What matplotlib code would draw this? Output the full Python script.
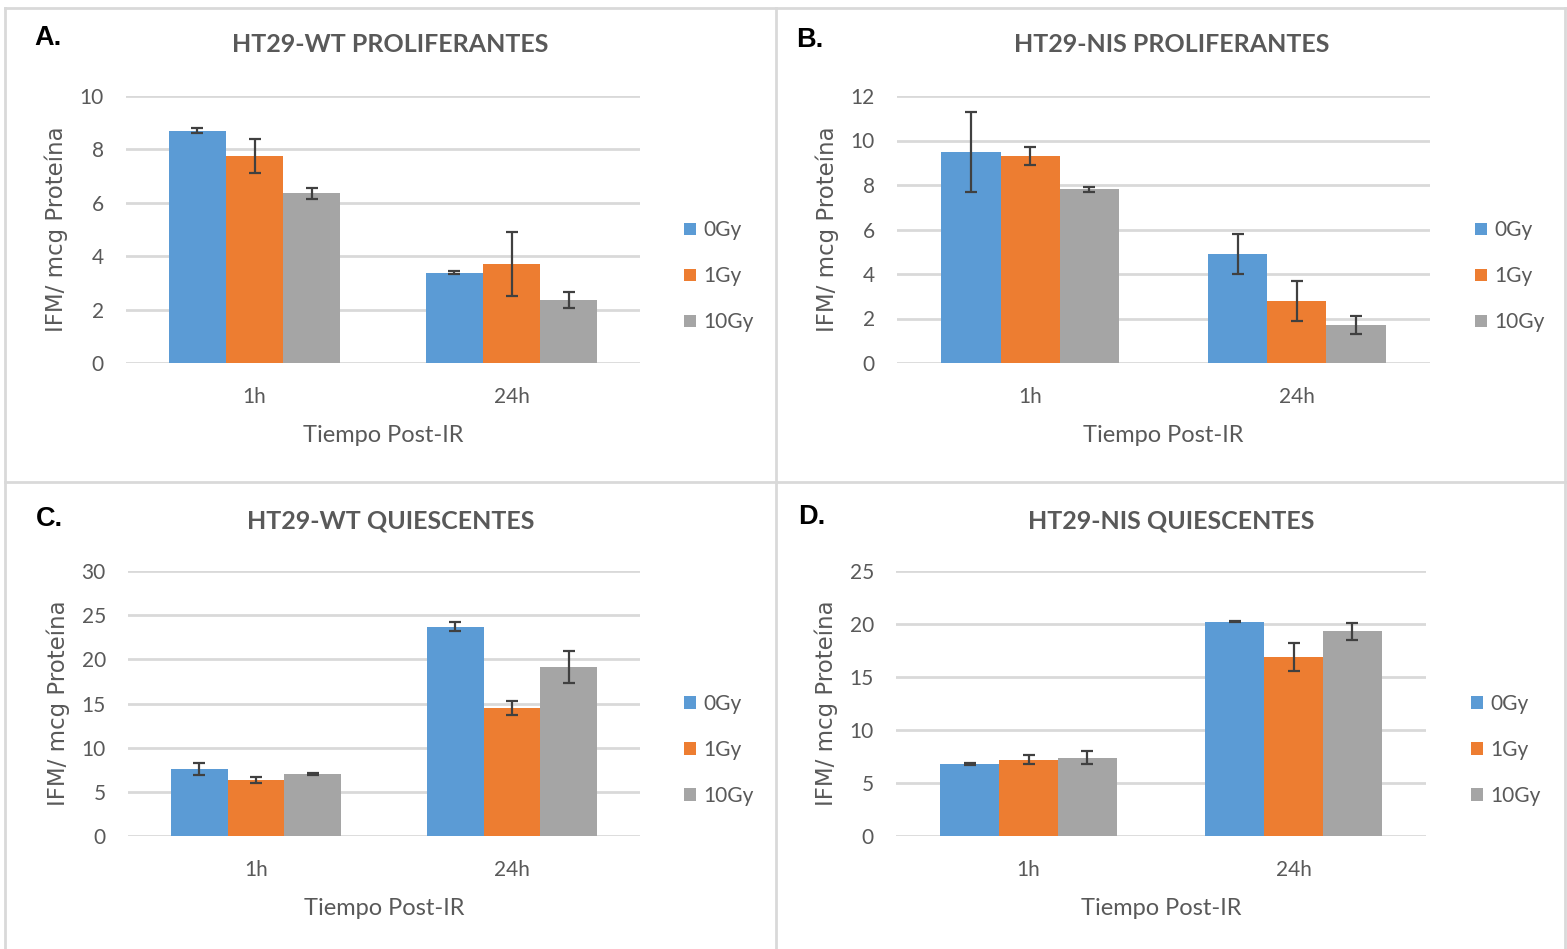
import matplotlib
matplotlib.use("Agg")
import matplotlib.pyplot as plt
import numpy as np

# data
times = ['1h', '24h']
doses = ['0Gy', '1Gy', '10Gy']
colors = ['#5B9BD5', '#ED7D31', '#A5A5A5']

wt_prolif = [[8.7, 3.38], [7.75, 3.72], [6.35, 2.35]]
wt_prolif_err = [[0.1, 0.05], [0.65, 1.2], [0.2, 0.3]]

nis_prolif = [[9.5, 4.9], [9.3, 2.8], [7.8, 1.7]]
nis_prolif_err = [[1.8, 0.9], [0.4, 0.9], [0.1, 0.4]]

wt_quies = [[7.6, 23.7], [6.3, 14.5], [7.0, 19.1]]
wt_quies_err = [[0.7, 0.5], [0.35, 0.8], [0.15, 1.8]]

nis_quies = [[6.8, 20.2], [7.2, 16.9], [7.4, 19.3]]
nis_quies_err = [[0.1, 0.05], [0.4, 1.3], [0.6, 0.8]]

W, H = 1567, 949
TXT = '#595959'
GRID = '#D9D9D9'
excel_font = ['Lato', 'DejaVu Sans']

fig = plt.figure(figsize=(W / 100, H / 100), dpi=100)


def px_axes(l, r, t, b):
    return fig.add_axes([l / W, 1 - b / H, (r - l) / W, (b - t) / H])


def panel(box, letter, letter_xy, title, title_xy, vals, errs, ymax, ystep):
    ax = px_axes(*box)
    x = np.arange(len(times))
    w = 2 / 9
    for i, d in enumerate(doses):
        ax.bar(x + (i - 1) * w, vals[i], w, color=colors[i], label=d, zorder=3,
               yerr=errs[i], error_kw=dict(ecolor='#404040', elinewidth=1.6,
                                           capsize=4, capthick=1.6, zorder=4))
    ax.set_xlim(-0.5, 1.5)
    ax.set_ylim(0, ymax)
    ax.set_yticks(np.arange(0, ymax + 0.01, ystep))
    ax.set_xticks(x)
    ax.set_xticklabels(times)
    ax.yaxis.grid(True, color=GRID, lw=2, zorder=0)
    ax.set_axisbelow(True)
    for s in ax.spines.values():
        s.set_visible(False)
    ax.tick_params(length=0, labelsize=15, labelcolor=TXT)
    ax.tick_params(axis='y', pad=16)
    ax.tick_params(axis='x', pad=17)
    for t in ax.get_xticklabels() + ax.get_yticklabels():
        t.set_family(excel_font)
    ax.set_xlabel('Tiempo Post-IR', fontsize=17, color=TXT, family=excel_font, labelpad=13)
    ax.set_ylabel('IFM/ mcg Proteína', fontsize=16.5, color=TXT, family='DejaVu Sans', labelpad=8)
    leg = ax.legend(loc='center left', bbox_to_anchor=(1.05, 0.325), frameon=False,
                    handlelength=0.55, handleheight=0.55, handletextpad=0.35,
                    labelspacing=1.25, prop=dict(family=excel_font, size=15))
    for t in leg.get_texts():
        t.set_color(TXT)
    fig.text(title_xy[0] / W, 1 - title_xy[1] / H, title, ha='center', va='center',
             fontsize=18, fontweight='bold', color=TXT, family=excel_font)
    fig.text(letter_xy[0] / W, 1 - letter_xy[1] / H, letter, ha='left', va='center',
             fontsize=19.5, fontweight='bold', color='black', family='Liberation Sans')
    return ax


panel((126, 640, 96, 363), 'A.', (34, 38), 'HT29-WT PROLIFERANTES', (390, 45),
      wt_prolif, wt_prolif_err, 10, 2)
panel((897, 1430, 96, 363), 'B.', (796, 40), 'HT29-NIS PROLIFERANTES', (1172, 45),
      nis_prolif, nis_prolif_err, 12, 2)
panel((128, 640, 571, 836), 'C.', (36, 519), 'HT29-WT QUIESCENTES', (391, 521),
      wt_quies, wt_quies_err, 30, 5)
panel((896, 1426, 571, 836), 'D.', (798, 517), 'HT29-NIS QUIESCENTES', (1171, 521),
      nis_quies, nis_quies_err, 25, 5)

# panel frames
frame = dict(color=GRID, lw=2, transform=fig.transFigure)
fig.add_artist(plt.Line2D([5 / W, 5 / W], [0, 1 - 8 / H], **frame))
fig.add_artist(plt.Line2D([5 / W, 1], [1 - 8 / H, 1 - 8 / H], **frame))
fig.add_artist(plt.Line2D([776 / W, 776 / W], [0, 1 - 8 / H], **frame))
fig.add_artist(plt.Line2D([5 / W, 1], [1 - 482 / H, 1 - 482 / H], **frame))
fig.add_artist(plt.Line2D([1565 / W, 1565 / W], [0, 1 - 8 / H], **frame))

fig.savefig('out.png', dpi=100)
